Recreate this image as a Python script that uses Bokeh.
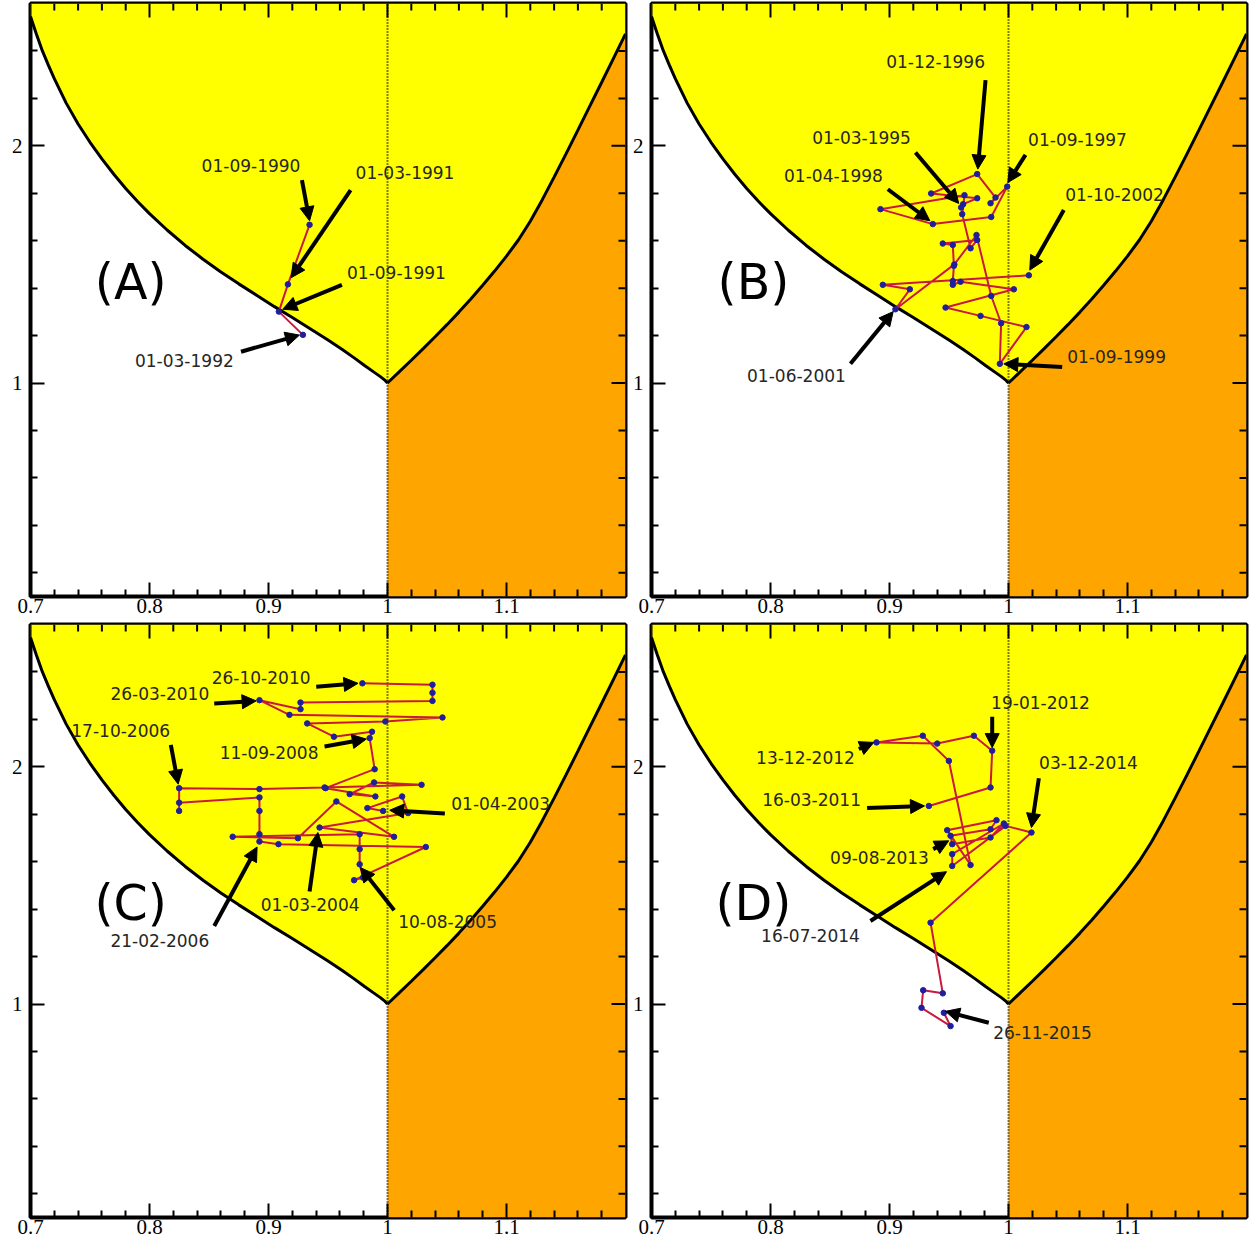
from bokeh.plotting import figure
from bokeh.models import (Range1d, FixedTicker, Arrow, NormalHead,
                          ColumnDataSource, CustomJSTickFormatter)
from bokeh.layouts import gridplot
from bokeh.embed import file_html
from bokeh.resources import INLINE
from bokeh.core.properties import value

# ---------------- axes ----------------
X_START, X_END = 0.7, 1.2
Y_START, Y_END = 0.1, 2.6
x_major = [0.7, 0.8, 0.9, 1.0, 1.1]
x_minor = [0.72, 0.74, 0.76, 0.78, 0.82, 0.84, 0.86, 0.88, 0.92, 0.94, 0.96, 0.98,
           1.02, 1.04, 1.06, 1.08, 1.12, 1.14, 1.16, 1.18]
y_major = [1, 2]
y_minor = [0.2, 0.4, 0.6, 0.8, 1.2, 1.4, 1.6, 1.8, 2.2, 2.4]
threshold_x = 1.0

# ---------------- region boundaries ----------------
left_x = [0.700, 0.705, 0.710, 0.715, 0.720, 0.730, 0.740, 0.750, 0.760, 0.770,
          0.780, 0.790, 0.800, 0.815, 0.830, 0.845, 0.860, 0.875, 0.890, 0.905,
          0.920, 0.935, 0.950, 0.962, 0.972, 0.981, 0.988, 0.994, 0.998, 1.000]
left_y = [2.545, 2.470, 2.400, 2.340, 2.283, 2.180, 2.092, 2.015, 1.945, 1.880,
          1.820, 1.765, 1.714, 1.644, 1.580, 1.522, 1.468, 1.418, 1.370, 1.322,
          1.276, 1.229, 1.181, 1.141, 1.106, 1.073, 1.048, 1.027, 1.011, 1.000]
right_x = [1.000, 1.010, 1.020, 1.030, 1.040, 1.050, 1.060, 1.070, 1.080, 1.090,
           1.100, 1.110, 1.120, 1.130, 1.140, 1.150, 1.160, 1.170, 1.180, 1.190, 1.200]
right_y = [1.000, 1.048, 1.096, 1.145, 1.195, 1.246, 1.299, 1.354, 1.412, 1.472,
           1.535, 1.603, 1.682, 1.772, 1.868, 1.966, 2.066, 2.167, 2.268, 2.370, 2.472]

# ---------------- panel A ----------------
a_x = [0.9345, 0.9163, 0.9087, 0.9289]
a_y = [1.667, 1.416, 1.301, 1.203]
a_lbl = ["01-09-1990", "01-03-1991", "01-09-1991", "01-03-1992"]
a_lx = [0.8853, 1.0147, 1.0075, 0.8293]
a_ly = [1.916, 1.886, 1.465, 1.097]
a_x0 = [0.9281, 0.969, 0.9617, 0.8769]
a_y0 = [1.855, 1.813, 1.414, 1.132]
a_x1 = [0.9345, 0.919, 0.912, 0.926]
a_y1 = [1.684, 1.444, 1.311, 1.202]

# ---------------- panel B ----------------
b_x = [0.9602, 0.9619, 0.9737, 0.9350, 0.9737, 0.9891, 0.9849, 0.9989, 0.9855,
       0.9364, 0.8924, 0.9630, 0.9611, 0.9681, 0.9737, 0.9448, 0.9532, 0.9541,
       0.9532, 0.9532, 0.9597, 1.0045, 0.9471, 0.9765, 1.0151, 0.9927, 0.9938,
       0.9855, 0.9731, 0.9545, 0.9050, 0.9171, 0.8944, 1.0171]
b_y = [1.740, 1.754, 1.779, 1.799, 1.881, 1.782, 1.758, 1.828, 1.700,
       1.670, 1.733, 1.792, 1.712, 1.568, 1.603, 1.588, 1.582, 1.494,
       1.430, 1.414, 1.427, 1.395, 1.318, 1.283, 1.236, 1.081, 1.252,
       1.367, 1.624, 1.500, 1.311, 1.395, 1.414, 1.454]
b_lbl = ["01-12-1996", "01-03-1995", "01-04-1998", "01-09-1997", "01-10-2002",
         "01-09-1999", "01-06-2001"]
b_lx = [0.9387, 0.8765, 0.8529, 1.058, 1.0891, 1.0908, 0.8218]
b_ly = [2.354, 2.034, 1.873, 2.025, 1.793, 1.110, 1.030]
b_x0 = [0.9807, 0.9218, 0.8986, 1.0143, 1.0465, 1.0451, 0.8672]
b_y0 = [2.277, 1.972, 1.817, 1.962, 1.729, 1.068, 1.081]
b_x1 = [0.9742, 0.9582, 0.9339, 0.9994, 1.0179, 0.9961, 0.9031]
b_y1 = [1.902, 1.757, 1.684, 1.845, 1.476, 1.081, 1.301]

# ---------------- panel C ----------------
c_x = [0.9963, 0.9831, 1.0123, 1.0173, 0.9429, 1.0055, 0.9570, 0.9247, 0.8699,
       0.9766, 0.9766, 0.9766, 0.9794, 0.9719, 1.0322, 0.9084, 0.8924, 0.8924,
       0.8924, 0.8924, 0.8249, 0.8249, 0.8249, 0.8924, 0.9471, 1.0286, 0.9887,
       0.9682, 0.9898, 0.9480, 0.9892, 0.9850, 0.9870, 0.9550, 0.9325, 0.9982,
       1.0462, 0.9176, 0.8924, 0.9269, 0.9269, 1.0378, 1.0378, 1.0378, 0.9789]
c_y = [1.814, 1.826, 1.875, 1.805, 1.744, 1.705, 1.854, 1.699, 1.705,
       1.716, 1.653, 1.589, 1.533, 1.522, 1.662, 1.674, 1.685, 1.716,
       1.814, 1.871, 1.849, 1.814, 1.910, 1.906, 1.913, 1.924, 1.934,
       1.885, 1.875, 1.910, 1.990, 2.121, 2.148, 2.127, 2.183, 2.191,
       2.208, 2.219, 2.281, 2.243, 2.271, 2.278, 2.312, 2.346, 2.352]
c_lbl = ["26-10-2010", "26-03-2010", "17-10-2006", "11-09-2008", "01-04-2003",
         "01-03-2004", "10-08-2005", "21-02-2006"]
c_lx = [0.8938, 0.8087, 0.7758, 0.9005, 1.0951, 0.9350, 1.0505, 0.8087]
c_ly = [2.376, 2.308, 2.152, 2.059, 1.844, 1.418, 1.346, 1.266]
c_x0 = [0.9401, 0.8544, 0.8179, 0.9471, 1.0482, 0.9345, 1.0056, 0.8544]
c_y0 = [2.338, 2.267, 2.093, 2.086, 1.803, 1.474, 1.395, 1.329]
c_x1 = [0.9752, 0.8896, 0.8241, 0.9822, 1.0019, 0.9415, 0.9774, 0.8904]
c_y1 = [2.352, 2.278, 1.927, 2.117, 1.817, 1.723, 1.575, 1.662]

# ---------------- panel D ----------------
d_x = [0.9331, 0.9849, 0.9863, 0.9709, 0.9401, 0.8891, 0.9280, 0.9499, 0.9681,
       0.9485, 0.9899, 0.9849, 0.9513, 0.9527, 0.9849, 0.9961, 0.9527, 0.9527,
       0.9975, 1.0193, 0.9345, 0.9448, 0.9283, 0.9269, 0.9513, 0.9457]
d_y = [1.835, 1.913, 2.068, 2.131, 2.098, 2.103, 2.131, 2.025, 1.586,
       1.733, 1.775, 1.737, 1.709, 1.674, 1.702, 1.761, 1.632, 1.582,
       1.751, 1.723, 1.343, 1.045, 1.058, 0.984, 0.907, 0.963]
d_lbl = ["19-01-2012", "13-12-2012", "03-12-2014", "16-03-2011", "09-08-2013",
         "16-07-2014", "26-11-2015"]
d_lx = [1.0269, 0.8294, 1.0672, 0.8345, 0.8916, 0.8336, 1.0286]
d_ly = [2.270, 2.038, 2.017, 1.861, 1.616, 1.287, 0.882]
d_x0 = [0.9863, 0.8742, 1.0255, 0.8812, 0.9367, 0.8840, 0.9834]
d_y0 = [2.211, 2.075, 1.952, 1.826, 1.653, 1.350, 0.921]
d_x1 = [0.9863, 0.8868, 1.0193, 0.9294, 0.9498, 0.9479, 0.9471]
d_y1 = [2.081, 2.103, 1.744, 1.835, 1.688, 1.558, 0.969]

panel_letters = ["(A)", "(B)", "(C)", "(D)"]
letter_x = [0.7842, 0.7857, 0.7842, 0.7857]
letter_y = [1.422, 1.422, 1.422, 1.422]

YELLOW = "#ffff00"
ORANGE = "#ffa500"
PATH_COLOR = "#c8193f"
DOT_COLOR = "#1f1f9e"
LABEL_COLOR = "#262626"

PLOT_W, PLOT_H = 595, 593          # inner frame size in pixels
MAJOR_LEN, MINOR_LEN = 14, 7       # tick lengths in pixels


def style_axis(ax, ticks, minor, standoff):
    ax.ticker = FixedTicker(ticks=ticks, minor_ticks=minor)
    ax.formatter = CustomJSTickFormatter(code="return (Math.round(tick*10)/10).toString();")
    ax.axis_line_color = None
    ax.major_tick_in = MAJOR_LEN
    ax.major_tick_out = 0
    ax.minor_tick_in = MINOR_LEN
    ax.minor_tick_out = 0
    ax.major_tick_line_width = 2
    ax.minor_tick_line_width = 2
    ax.major_tick_line_color = "black"
    ax.minor_tick_line_color = "black"
    ax.major_label_text_font = "Liberation Serif"
    ax.major_label_text_font_size = "21px"
    ax.major_label_text_color = "black"
    ax.major_label_standoff = standoff


def make_panel(idx, px, py, lbl, lx, ly, x0, y0, x1, y1, left_border, right_border,
               bottom_border):
    p = figure(width=left_border + PLOT_W + right_border,
               height=3 + PLOT_H + bottom_border,
               x_range=Range1d(X_START, X_END), y_range=Range1d(Y_START, Y_END),
               output_backend="svg", toolbar_location=None,
               min_border_left=left_border, min_border_right=right_border,
               min_border_top=3, min_border_bottom=bottom_border)
    p.grid.visible = False
    p.background_fill_color = "white"
    p.border_fill_color = "white"
    p.outline_line_color = "black"
    p.outline_line_width = 4

    style_axis(p.xaxis[0], x_major, x_minor, 2)
    style_axis(p.yaxis[0], y_major, y_minor, 8)
    p.yaxis[0].major_label_orientation = "horizontal"

    # regions
    yx = left_x + right_x + [X_END, X_START]
    yy = left_y + right_y + [Y_END, Y_END]
    p.patch(yx, yy, fill_color=YELLOW, line_color=None)
    ox = right_x + [X_END, threshold_x]
    oy = right_y + [Y_START, Y_START]
    p.patch(ox, oy, fill_color=ORANGE, line_color=None)
    p.line(left_x, left_y, line_color="black", line_width=3)
    p.line(right_x, right_y, line_color="black", line_width=3)
    p.line([threshold_x, threshold_x], [Y_START, Y_END], line_color="black",
           line_width=2, line_dash="1 2")

    # mirrored ticks on the top and right frame edges
    ux = (X_END - X_START) / PLOT_W
    uy = (Y_END - Y_START) / PLOT_H
    p.segment(x0=x_major, y0=[Y_END] * len(x_major), x1=x_major,
              y1=[Y_END - MAJOR_LEN * uy] * len(x_major), line_color="black", line_width=2)
    p.segment(x0=x_minor, y0=[Y_END] * len(x_minor), x1=x_minor,
              y1=[Y_END - MINOR_LEN * uy] * len(x_minor), line_color="black", line_width=2)
    p.segment(x0=[X_END] * len(y_major), y0=y_major, x1=[X_END - MAJOR_LEN * ux] * len(y_major),
              y1=y_major, line_color="black", line_width=2)
    p.segment(x0=[X_END] * len(y_minor), y0=y_minor, x1=[X_END - MINOR_LEN * ux] * len(y_minor),
              y1=y_minor, line_color="black", line_width=2)

    # trajectory
    p.line(px, py, line_color=PATH_COLOR, line_width=2)
    p.scatter(px, py, size=5.5, fill_color=DOT_COLOR, line_color=DOT_COLOR)

    # labels
    p.text(x=lx, y=ly, text=lbl, text_font=value("DejaVu Sans"),
           text_font_size=value("17px"), text_color=LABEL_COLOR,
           text_align="center", text_baseline="middle")
    p.text(x=[letter_x[idx]], y=[letter_y[idx]], text=[panel_letters[idx]],
           text_font=value("DejaVu Sans"), text_font_size=value("49px"),
           text_color="black", text_align="center", text_baseline="middle")

    src = ColumnDataSource(dict(x0=x0, y0=y0, x1=x1, y1=y1))
    p.add_layout(Arrow(end=NormalHead(size=14, fill_color="black", line_color="black",
                                      line_width=1),
                       x_start="x0", y_start="y0", x_end="x1", y_end="y1",
                       source=src, line_color="black", line_width=4))
    return p


pa = make_panel(0, a_x, a_y, a_lbl, a_lx, a_ly, a_x0, a_y0, a_x1, a_y1, 30, 4, 25)
pb = make_panel(1, b_x, b_y, b_lbl, b_lx, b_ly, b_x0, b_y0, b_x1, b_y1, 22, 5, 25)
pc = make_panel(2, c_x, c_y, c_lbl, c_lx, c_ly, c_x0, c_y0, c_x1, c_y1, 30, 4, 24)
pd = make_panel(3, d_x, d_y, d_lbl, d_lx, d_ly, d_x0, d_y0, d_x1, d_y1, 22, 5, 24)

grid = gridplot([[pa, pb], [pc, pd]], toolbar_location=None)

open("out.html", "w").write(file_html(grid, INLINE))
